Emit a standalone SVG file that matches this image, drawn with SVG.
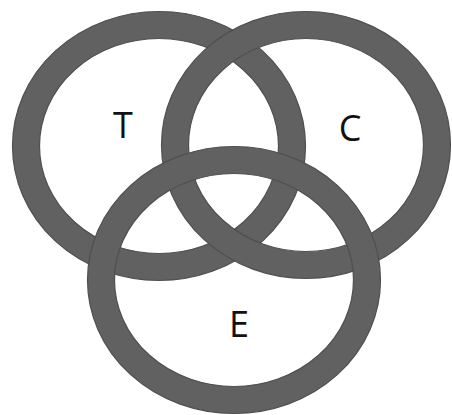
<svg xmlns="http://www.w3.org/2000/svg" width="452" height="415" viewBox="0 0 452 415">
<style>
.band{fill:none;stroke:#616161;stroke-width:27}
.edge{fill:none;stroke:#4f4f4f;stroke-width:1.2}
.lbl{font-family:"Open Sans","Liberation Sans",sans-serif;font-size:36px;fill:#111;text-anchor:middle}
</style>
<rect width="452" height="415" fill="#ffffff"/>
<g id="ring-T">
<ellipse class="band" cx="159" cy="146" rx="133" ry="121"/>
<ellipse class="edge" cx="159" cy="146" rx="146.5" ry="134.5"/>
<ellipse class="edge" cx="159" cy="146" rx="119.5" ry="107.5"/>
</g>
<g id="ring-C">
<ellipse class="band" cx="306" cy="145" rx="131" ry="120"/>
<ellipse class="edge" cx="306" cy="145" rx="144.5" ry="133.5"/>
<ellipse class="edge" cx="306" cy="145" rx="117.5" ry="106.5"/>
</g>
<g id="ring-E">
<ellipse class="band" cx="234" cy="280" rx="133" ry="120"/>
<ellipse class="edge" cx="234" cy="280" rx="146.5" ry="133.5"/>
<ellipse class="edge" cx="234" cy="280" rx="119.5" ry="106.5"/>
</g>
<g id="labels">
<text class="lbl" x="123" y="138">T</text>
<text class="lbl" x="350" y="141">C</text>
<text class="lbl" x="239" y="337">E</text>
</g>
</svg>
